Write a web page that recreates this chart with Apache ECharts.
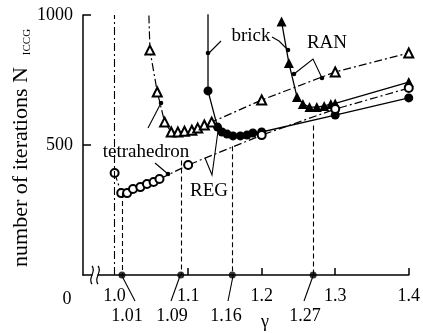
<!DOCTYPE html>
<html>
<head>
<meta charset="utf-8">
<script src="https://cdn.jsdelivr.net/npm/echarts@6.0.0/dist/echarts.min.js"></script>
<style>
  html, body { margin: 0; background: #fff; }
  #chart { width: 423px; height: 333px; }
</style>
</head>
<body>
<div id="chart"></div>
<script>
// tetrahedron, REG (open circles, dash-dot)
var tetraRegGamma = [1.0, 1.009, 1.017, 1.025, 1.035, 1.044, 1.053, 1.061, 1.1, 1.2, 1.3, 1.4];
var tetraRegN     = [392, 315, 315, 331, 338, 350, 358, 369, 423, 538, 638, 719];
// tetrahedron, RAN (open triangles, dash-dot)
var tetraRanGamma = [1.046, 1.048, 1.058, 1.068, 1.077, 1.086, 1.095, 1.105, 1.113, 1.122, 1.132, 1.2, 1.3, 1.4];
var tetraRanN     = [1060, 865, 704, 588, 550, 550, 553, 557, 565, 577, 588, 673, 781, 854];
// brick, REG (filled circles, solid)
var brickRegGamma = [1.127, 1.127, 1.14, 1.146, 1.153, 1.161, 1.171, 1.18, 1.188, 1.2, 1.3, 1.4];
var brickRegN     = [1060, 708, 569, 550, 542, 535, 535, 538, 546, 550, 615, 681];
// brick, RAN (filled triangles, solid)
var brickRanGamma = [1.227, 1.237, 1.248, 1.256, 1.265, 1.275, 1.285, 1.294, 1.3, 1.4];
var brickRanN     = [975, 815, 685, 658, 646, 646, 650, 658, 660, 742];

// optimum gamma marks (vertical dashed lines) and where they start
var optGamma = [1.01, 1.09, 1.16, 1.27];
var optTop   = [315, 440, 495, 575];
var optLabels = ['1.01', '1.09', '1.16', '1.27'];

var xTickValues  = [1.1, 1.2, 1.3, 1.4];
var xLabelValues = [1.0, 1.1, 1.2, 1.3, 1.4];

var serif = '"Liberation Serif", "DejaVu Serif", serif';
var dashDot = [8, 3, 2, 3];

function zip(xs, ys) {
  return xs.map(function (x, i) { return [x, ys[i]]; });
}

var myChart = echarts.init(document.getElementById('chart'));

var markLines = [[{ coord: [1.0, 0] }, { coord: [1.0, 1000], lineStyle: { type: dashDot } }]];
optGamma.forEach(function (g, i) {
  markLines.push([{ coord: [g, optTop[i]] }, { coord: [g, 0] }]);
});

function seg(points) {
  return { type: 'polyline', shape: { points: points }, style: { stroke: '#000', lineWidth: 1.1, fill: null } };
}
function dot(x, y, r) {
  return { type: 'circle', shape: { cx: x, cy: y, r: r || 2.3 }, style: { fill: '#000' } };
}
function txt(s, x, y, size) {
  return {
    type: 'text', x: x, y: y,
    style: { text: s, font: (size || 19) + 'px ' + serif, fill: '#000',
             align: 'center', verticalAlign: 'middle', textAlign: 'center', textVerticalAlign: 'middle' }
  };
}
function wave(x) {
  return { type: 'bezierCurve',
    shape: { x1: x, y1: 266, cpx1: x + 5, cpy1: 272, cpx2: x - 5, cpy2: 278, x2: x, y2: 284 },
    style: { stroke: '#000', lineWidth: 1.2, fill: null } };
}

var graphics = [
  // axis break
  { type: 'rect', shape: { x: 92.5, y: 271, width: 5, height: 8 }, style: { fill: '#fff' } },
  wave(92), wave(98),
  txt('0', 67, 299, 18),
  // second row of gamma labels with leaders
  txt(optLabels[0], 127, 316, 18), seg([[122, 276], [135, 301]]),
  txt(optLabels[1], 172, 316, 18), seg([[180, 276], [171, 301]]),
  txt(optLabels[2], 226, 316, 18), seg([[233, 276], [228, 301]]),
  txt(optLabels[3], 305, 316, 18), seg([[313, 276], [304, 301]]),
  txt('γ', 265, 322, 18),
  // curve labels
  txt('tetrahedron', 146, 152), seg([[155, 163], [168, 174]]), dot(168, 174),
  seg([[148, 128], [161, 103]]), dot(161, 103),
  txt('brick', 251, 36), seg([[221, 41], [209, 53]]), dot(208, 53),
  seg([[272, 37], [279, 41], [288, 50]]), dot(288, 50),
  txt('RAN', 327, 43), seg([[294, 74], [313, 59], [322, 78]]), dot(294, 74), dot(322, 78),
  txt('REG', 209, 191), seg([[205, 158], [212, 175], [218, 131]]),
  // y axis title
  { type: 'text', x: 21, y: 167, rotation: Math.PI / 2,
    style: { text: 'number of iterations N', font: '22px ' + serif, fill: '#000',
             align: 'center', verticalAlign: 'middle', textAlign: 'center', textVerticalAlign: 'middle' } },
  { type: 'text', x: 27, y: 42, rotation: Math.PI / 2,
    style: { text: 'ICCG', font: '11px ' + serif, fill: '#000',
             align: 'center', verticalAlign: 'middle', textAlign: 'center', textVerticalAlign: 'middle' } }
];

var option = {
  animation: false,
  backgroundColor: '#fff',
  grid: { left: 83, right: 14, top: 15, bottom: 58 },
  xAxis: {
    type: 'value', min: 0.957, max: 1.4,
    axisLine: { lineStyle: { color: '#000', width: 1.5 } },
    axisTick: { inside: true, length: 7, customValues: xTickValues, lineStyle: { color: '#000', width: 1.5 } },
    axisLabel: { customValues: xLabelValues, margin: 12, color: '#000', fontFamily: serif, fontSize: 18,
                 formatter: function (v) { return v.toFixed(1); } },
    splitLine: { show: false }
  },
  yAxis: {
    type: 'value', min: 0, max: 1000, interval: 500,
    axisLine: { show: true, lineStyle: { color: '#000', width: 1.5 } },
    axisTick: { show: true, inside: true, length: 8, lineStyle: { color: '#000', width: 1.5 } },
    axisLabel: { showMinLabel: false, margin: 10, color: '#000', fontFamily: serif, fontSize: 18,
                 formatter: function (v) { return String(v); } },
    splitLine: { show: false }
  },
  series: [
    {
      name: 'brick RAN', type: 'line', data: zip(brickRanGamma, brickRanN),
      symbol: 'triangle', symbolSize: 10, showAllSymbol: true,
      lineStyle: { color: '#000', width: 1.3 }, itemStyle: { color: '#000' }
    },
    {
      name: 'brick REG', type: 'line', data: zip(brickRegGamma, brickRegN),
      symbol: 'circle', symbolSize: 9, showAllSymbol: true,
      lineStyle: { color: '#000', width: 1.3 }, itemStyle: { color: '#000' }
    },
    {
      name: 'tetrahedron RAN', type: 'line', data: zip(tetraRanGamma, tetraRanN),
      symbol: 'emptyTriangle', symbolSize: 9, showAllSymbol: true,
      lineStyle: { color: '#000', width: 1.2, type: dashDot }, itemStyle: { color: '#000', borderWidth: 1.3 }
    },
    {
      name: 'tetrahedron REG', type: 'line', data: zip(tetraRegGamma, tetraRegN),
      symbol: 'emptyCircle', symbolSize: 8, showAllSymbol: true,
      lineStyle: { color: '#000', width: 1.2, type: dashDot }, itemStyle: { color: '#000', borderWidth: 1.3 }
    },
    {
      name: 'optimum', type: 'scatter', clip: false,
      data: optGamma.map(function (g) { return [g, 0]; }),
      symbol: 'circle', symbolSize: 7, itemStyle: { color: '#000' },
      markLine: {
        silent: true, symbol: 'none', label: { show: false },
        lineStyle: { color: '#000', width: 1.1, type: [5, 3] },
        data: markLines
      }
    }
  ],
  graphic: { elements: graphics.map(function (g) { g.z = 100; return g; }) }
};

myChart.setOption(option);
</script>
</body>
</html>
